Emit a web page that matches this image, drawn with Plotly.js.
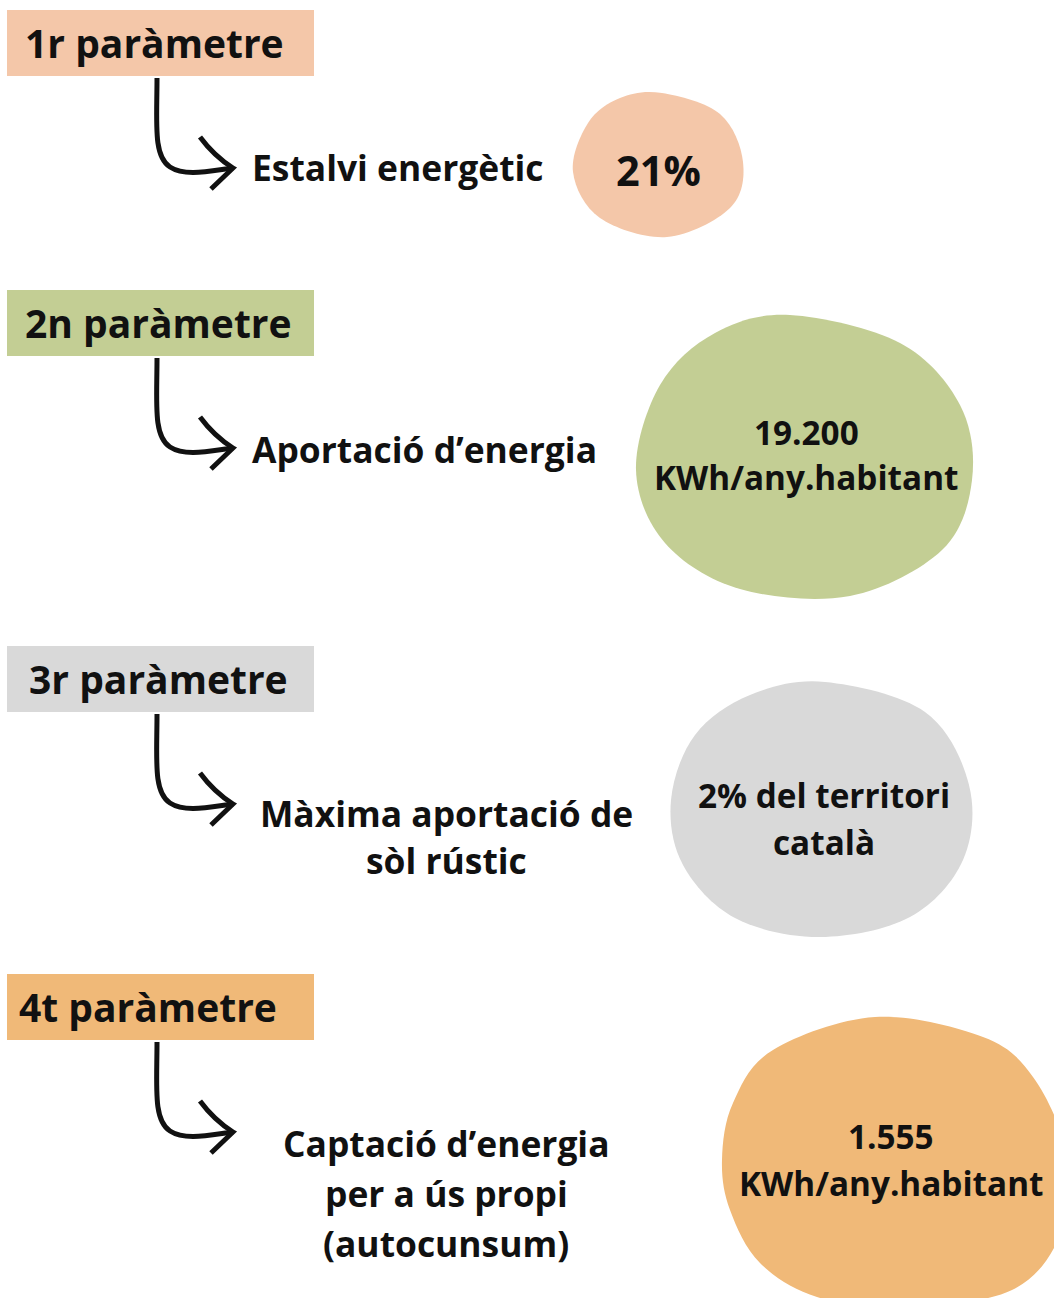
<!DOCTYPE html>
<html>
<head>
<meta charset="utf-8">
<script src="https://cdn.plot.ly/plotly-3.0.1.min.js"></script>
<style>html,body{margin:0;padding:0;background:#fff}#chart{width:1054px;height:1298px}</style>
</head>
<body>
<div id="chart"></div>
<script>
// ---- data ----
var parameterLabels = ["1r paràmetre", "2n paràmetre", "3r paràmetre", "4t paràmetre"];
var parameterDescriptions = [
  "Estalvi energètic",
  "Aportació d’energia",
  "Màxima aportació de<br>sòl rústic",
  "Captació d’energia<br>per a ús propi<br>(autocunsum)"
];
var parameterValues = [
  "21%",
  "19.200<br>KWh/any.habitant",
  "2% del territori<br>català",
  "1.555<br>KWh/any.habitant"
];
var parameterColors = ["#F4C7A9", "#C3CE94", "#D9D9D9", "#F0B978"];

// ---- layout geometry (pixels, y downwards) ----
var boxTop = [10, 290, 646, 974];
var boxH = 66;
var boxTextX = [154, 158, 158, 148];
var descPos = [
  {x: 250, y: 167, anchor: "left", gap: 47},
  {x: 250, y: 449, anchor: "left", gap: 47},
  {x: 446, y: 836.5, anchor: "center", gap: 47},
  {x: 446, y: 1193, anchor: "center", gap: 50}
];
var valuePos = [
  {x: 658, y: 170, size: 41.5, gap: 45},
  {x: 806, y: 454.5, size: 33.3, gap: 45},
  {x: 824, y: 818.5, size: 33.3, gap: 47},
  {x: 891, y: 1159.5, size: 33.3, gap: 47}
];
var blobPts = [
  [[662,93],[720,114],[743,162],[730,208],[667,237],[600,218],[573,172],[588,123],[620,98]],
  [[790,315],[900,343],[960,405],[972,480],[942,550],[850,596],[740,589],[665,543],[636,470],[660,385],[715,333]],
  [[825,682],[925,712],[969,785],[963,860],[910,917],[820,937],[735,918],[683,865],[671,800],[695,735],[750,695]],
  [[875,1017],[983,1037],[1033,1077],[1065,1150],[1062,1230],[1012,1290],[900,1308],[817,1297],[760,1263],[730,1210],[722,1160],[733,1103],[773,1050]]
];

function blobPath(p) {
  var n = p.length, s = "M" + p[0][0] + "," + p[0][1];
  for (var i = 0; i < n; i++) {
    var p0 = p[(i - 1 + n) % n], p1 = p[i], p2 = p[(i + 1) % n], p3 = p[(i + 2) % n];
    var c1x = p1[0] + (p2[0] - p0[0]) / 6, c1y = p1[1] + (p2[1] - p0[1]) / 6;
    var c2x = p2[0] - (p3[0] - p1[0]) / 6, c2y = p2[1] - (p3[1] - p1[1]) / 6;
    s += " C" + c1x.toFixed(1) + "," + c1y.toFixed(1) + " " + c2x.toFixed(1) + "," + c2y.toFixed(1) + " " + p2[0] + "," + p2[1];
  }
  return s + " Z";
}

var shapes = [], annotations = [];
var FONT = "Open Sans, Noto Sans, sans-serif";

function addLines(text, x, yc, gap, anchor, size) {
  var lines = text.split("<br>");
  var n = lines.length;
  for (var k = 0; k < n; k++) {
    annotations.push({xref: "x", yref: "y", x: x, y: yc + (k - (n - 1) / 2) * gap, text: lines[k],
      showarrow: false, xanchor: anchor, yanchor: "middle", align: "center",
      font: {family: FONT, size: size, color: "#111", weight: 700}});
  }
}

for (var i = 0; i < parameterLabels.length; i++) {
  var t = boxTop[i];
  shapes.push({type: "rect", xref: "x", yref: "y", x0: 7, x1: 314, y0: t, y1: t + boxH,
    fillcolor: parameterColors[i], line: {width: 0}, layer: "below"});
  addLines(parameterLabels[i], boxTextX[i], t + boxH / 2 - 1, 0, "center", 39);
  // arrow
  var a = t + boxH + 2;
  shapes.push({type: "path", xref: "x", yref: "y",
    path: "M157," + a + " C157," + (a + 45) + " 153," + (a + 78) + " 170," + (a + 89) +
          " C185," + (a + 99) + " 210," + (a + 93) + " 233," + (a + 90),
    line: {color: "#111", width: 5}});
  shapes.push({type: "path", xref: "x", yref: "y",
    path: "M200," + (a + 59) + " Q214," + (a + 78) + " 233," + (a + 90) + " L211," + (a + 111),
    line: {color: "#111", width: 5}});
  // description
  var d = descPos[i];
  addLines(parameterDescriptions[i], d.x, d.y, d.gap, d.anchor, 35.4);
  // blob
  shapes.push({type: "path", xref: "x", yref: "y", path: blobPath(blobPts[i]),
    fillcolor: parameterColors[i], line: {width: 0}, layer: "below"});
  var v = valuePos[i];
  addLines(parameterValues[i], v.x, v.y, v.gap, "center", v.size);
}

var layout = {
  width: 1054, height: 1298,
  margin: {l: 0, r: 0, t: 0, b: 0},
  paper_bgcolor: "#fff", plot_bgcolor: "#fff",
  showlegend: false,
  xaxis: {range: [0, 1054], visible: false, fixedrange: true},
  yaxis: {range: [1298, 0], visible: false, fixedrange: true},
  shapes: shapes,
  annotations: annotations
};

Plotly.newPlot("chart", [{x: [], y: [], type: "scatter", mode: "markers", hoverinfo: "skip"}], layout, {displayModeBar: false, staticPlot: true});
</script>
</body>
</html>
